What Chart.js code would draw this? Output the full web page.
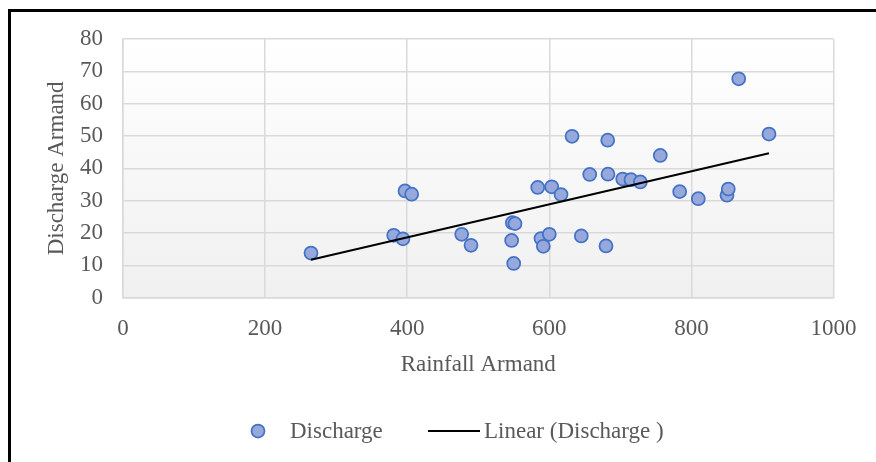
<!DOCTYPE html>
<html>
<head>
<meta charset="utf-8">
<script src="https://cdn.jsdelivr.net/npm/chart.js@4.4.1/dist/chart.umd.min.js"></script>
<style>
  html, body { margin: 0; padding: 0; background: #fff; overflow: hidden; }
  #frame { position: absolute; left: 8px; top: 9px; width: 940px; height: 520px; border: 3px solid #000; box-sizing: border-box; }
  #chart { position: absolute; left: 0; top: 0; }
</style>
</head>
<body>
<div id="frame"></div>
<canvas id="chart" width="876" height="462"></canvas>
<script>
// rainfall (x) vs discharge (y)
const rainfall = [264.6, 381, 394, 396.9, 406.3, 476.7, 489.8, 547, 548, 549.9, 551.7,
  583.7, 588.3, 591.6, 600, 603.4, 616.5, 632, 645, 656.9, 679.8, 682.2, 682.6,
  703.3, 715, 728.1, 756.2, 783.5, 809.7, 850.1, 851.9, 866.6, 909.2];
const discharge = [13.8, 19.3, 18.2, 33.0, 32.0, 19.6, 16.2, 17.7, 23.2, 10.6, 22.9,
  34.1, 18.3, 15.9, 19.6, 34.3, 31.9, 49.9, 19.1, 38.1, 16.0, 48.7, 38.2,
  36.7, 36.5, 35.8, 44.0, 32.8, 30.6, 31.7, 33.6, 67.7, 50.6];
const xTicks = [0, 200, 400, 600, 800, 1000];
const yTicks = [0, 10, 20, 30, 40, 50, 60, 70, 80];

const FONT = "'Liberation Serif', 'Times New Roman', serif";
const FS = 23;
const TXT = "#595959";
const GRID = "#d9d9d9";

// least squares trend, like Excel's linear trendline
function trend(xs, ys) {
  const n = xs.length;
  let sx = 0, sy = 0, sxx = 0, sxy = 0;
  for (let i = 0; i < n; i++) {
    sx += xs[i]; sy += ys[i]; sxx += xs[i] * xs[i]; sxy += xs[i] * ys[i];
  }
  const b = (n * sxy - sx * sy) / (n * sxx - sx * sx);
  const a = (sy - b * sx) / n;
  const x0 = Math.min(...xs), x1 = Math.max(...xs);
  return [{ x: x0, y: a + b * x0 }, { x: x1, y: a + b * x1 }];
}

const points = rainfall.map((x, i) => ({ x: x, y: discharge[i] }));

const plotBg = {
  id: "plotBg",
  beforeDraw(chart) {
    const { ctx, chartArea: a } = chart;
    const g = ctx.createLinearGradient(0, a.top, 0, a.bottom);
    g.addColorStop(0, "#ffffff");
    g.addColorStop(1, "#f0f0f0");
    ctx.save();
    ctx.fillStyle = g;
    ctx.fillRect(a.left, a.top, a.right - a.left, a.bottom - a.top);
    ctx.restore();
  }
};

const legendBox = {
  id: "legendBox",
  afterDraw(chart) {
    const ctx = chart.ctx;
    const y = 431;
    ctx.save();
    ctx.beginPath();
    ctx.arc(258, y, 6.5, 0, Math.PI * 2);
    ctx.fillStyle = "#97a9dc";
    ctx.fill();
    ctx.lineWidth = 1.75;
    ctx.strokeStyle = "#4472c4";
    ctx.stroke();
    ctx.beginPath();
    ctx.moveTo(428, y);
    ctx.lineTo(480, y);
    ctx.lineWidth = 2;
    ctx.strokeStyle = "#000";
    ctx.stroke();
    ctx.font = FS + "px " + FONT;
    ctx.fillStyle = TXT;
    ctx.textBaseline = "middle";
    ctx.fillText("Discharge", 290, y + 1);
    ctx.fillText("Linear (Discharge )", 484, y + 1);
    ctx.restore();
  }
};

new Chart(document.getElementById("chart"), {
  data: {
    datasets: [
      {
        type: "scatter",
        label: "Discharge",
        data: points,
        pointRadius: 6.5,
        pointHoverRadius: 6.5,
        pointBackgroundColor: "#97a9dc",
        pointBorderColor: "#4472c4",
        pointBorderWidth: 1.75,
        order: 1
      },
      {
        type: "line",
        label: "Linear (Discharge )",
        data: trend(rainfall, discharge),
        borderColor: "#000",
        borderWidth: 2,
        pointRadius: 0,
        fill: false,
        order: 0
      }
    ]
  },
  options: {
    responsive: false,
    animation: false,
    devicePixelRatio: 1,
    layout: { padding: { left: 30, right: 42.5, top: 39, bottom: 83.2 } },
    plugins: { legend: { display: false }, tooltip: { enabled: false } },
    scales: {
      x: {
        type: "linear",
        min: 0, max: 1000,
        afterBuildTicks(s) { s.ticks = xTicks.map(v => ({ value: v })); },
        afterFit(s) { s.height = 81.1; },
        grid: { color: GRID, lineWidth: 1.5, drawTicks: false },
        border: { color: GRID, width: 1.5 },
        ticks: { color: TXT, font: { family: FONT, size: FS }, padding: 17, maxRotation: 0, callback: v => String(v) },
        title: { display: true, text: "Rainfall Armand", color: TXT, font: { family: FONT, size: FS }, padding: { top: 0, bottom: 0 } }
      },
      y: {
        type: "linear",
        min: 0, max: 80,
        afterBuildTicks(s) { s.ticks = yTicks.map(v => ({ value: v })); },
        afterFit(s) { s.width = 93; },
        grid: { color: GRID, lineWidth: 1.5, drawTicks: false },
        border: { color: GRID, width: 1.5 },
        ticks: { color: TXT, font: { family: FONT, size: FS }, padding: 20, callback: v => String(v) },
        title: { display: true, text: "Discharge Armand", color: TXT, font: { family: FONT, size: FS }, padding: { top: 13.2, bottom: 0 } }
      }
    }
  },
  plugins: [plotBg, legendBox]
});
</script>
</body>
</html>
